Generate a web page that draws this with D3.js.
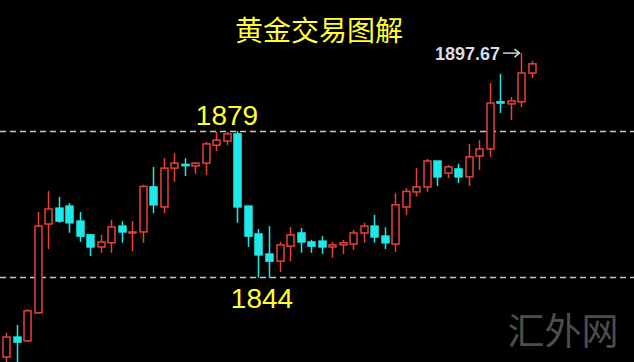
<!DOCTYPE html>
<html><head><meta charset="utf-8">
<script src="https://cdn.jsdelivr.net/npm/d3@7/dist/d3.min.js"></script>
<style>html,body{margin:0;padding:0;background:#000;}svg{display:block;}</style>
</head><body>
<script>
const opens  = [1824.8,1829.6,1828.7,1835.4,1856.7,1860.5,1861.0,1857.4,1854.1,1851.2,1852.2,1856.2,1854.55,1854.8,1865.6,1860.8,1870.1,1871.0,1870.6,1871.3,1875.6,1876.6,1878.3,1861.0,1854.3,1849.5,1847.8,1851.4,1854.55,1852.4,1852.6,1851.2,1851.7,1851.9,1854.55,1856.2,1853.8,1851.9,1860.8,1864.4,1865.6,1871.8,1868.9,1869.9,1868.0,1873.0,1874.7,1886.0,1885.5,1886.0,1892.9];
const closes = [1829.6,1828.4,1835.9,1856.2,1860.3,1857.4,1857.0,1853.8,1851.2,1852.4,1856.0,1854.8,1854.8,1865.7,1861.3,1870.1,1871.3,1870.7,1871.3,1875.9,1876.8,1878.3,1860.8,1853.8,1849.3,1847.8,1851.7,1854.1,1852.4,1851.4,1851.2,1851.7,1852.2,1854.55,1856.2,1853.6,1852.2,1861.3,1864.5,1865.6,1871.8,1868.0,1870.4,1868.0,1872.8,1874.7,1885.7,1885.7,1886.2,1892.9,1895.1];
const highs  = [1830.6,1832.5,1836.3,1859.6,1864.6,1863.2,1861.7,1859.6,1854.3,1854.1,1857.7,1857.4,1857.4,1866.1,1870.4,1872.5,1873.7,1872.5,1871.4,1876.4,1878.8,1878.8,1879.0,1861.0,1855.5,1856.2,1852.4,1856.0,1855.75,1852.9,1853.8,1852.4,1852.9,1855.3,1857.0,1858.9,1855.9,1864.1,1865.3,1870.1,1872.3,1871.8,1870.85,1871.1,1875.9,1876.8,1890.5,1892.7,1887.15,1897.67,1895.8];
const lows   = [1822.0,1822.0,1828.5,1835.2,1850.7,1857.0,1854.6,1852.4,1849.0,1849.8,1849.8,1852.2,1850.2,1852.2,1859.3,1859.3,1866.8,1868.2,1868.7,1868.5,1874.2,1875.6,1857.0,1851.2,1843.8,1843.8,1845.2,1847.8,1849.8,1849.8,1849.5,1848.6,1849.5,1850.5,1852.2,1852.2,1850.7,1850.0,1858.9,1863.3,1864.4,1865.8,1867.7,1866.5,1865.8,1869.65,1872.8,1883.3,1881.6,1884.75,1891.7];
const levels = [1879, 1844];
const levelLabels = ["1879", "1844"];
const lastHigh = "1897.67";
const title = "黄金交易图解";
const watermark = "汇外网";

const W = 634, H = 362;
const svg = d3.select("body").append("svg").attr("width", W).attr("height", H);
svg.append("rect").attr("width", W).attr("height", H).attr("fill", "#000");

const idx = d3.range(opens.length);
const x = d3.scalePoint().domain(idx).range([6, 532]);
const y = d3.scaleLinear().domain([1844, 1879]).range([277, 131]);

// watermark
svg.append("text").attr("x", 563).attr("y", 345).attr("text-anchor", "middle")
  .attr("font-family", "'Noto Sans CJK SC', sans-serif").attr("font-size", 37)
  .attr("fill", "#4d4d4d").text(watermark);

// dashed levels
svg.selectAll("line.lvl").data(levels).enter().append("line")
  .attr("x1", 0).attr("x2", W)
  .attr("y1", d => Math.round(y(d)) + 0.5).attr("y2", d => Math.round(y(d)) + 0.5)
  .attr("stroke", "#c8c8c8").attr("stroke-width", 1.5).attr("stroke-dasharray", "6,4");

const RED = "#e8413a", CYAN = "#1ee8e8";
const bw = 7;
const g = svg.append("g");
idx.forEach(i => {
  const up = closes[i] >= opens[i];
  const col = up ? RED : CYAN;
  const cx = Math.round(x(i)) + 0.5;
  const top = y(Math.max(opens[i], closes[i]));
  const bot = y(Math.min(opens[i], closes[i]));
  g.append("line").attr("x1", cx).attr("x2", cx)
    .attr("y1", y(highs[i])).attr("y2", top).attr("stroke", col).attr("stroke-width", 1.5);
  g.append("line").attr("x1", cx).attr("x2", cx)
    .attr("y1", bot).attr("y2", y(lows[i])).attr("stroke", col).attr("stroke-width", 1.5);
  const h = Math.max(bot - top, 1);
  if (up) {
    g.append("rect").attr("x", cx - bw / 2).attr("y", top).attr("width", bw).attr("height", h)
      .attr("fill", "#000").attr("stroke", col).attr("stroke-width", 1.5);
  } else {
    g.append("rect").attr("x", cx - bw / 2 - 0.75).attr("y", top - 0.75).attr("width", bw + 1.5).attr("height", h + 1.5)
      .attr("fill", col);
  }
});

// title
svg.append("text").attr("x", 319).attr("y", 41).attr("text-anchor", "middle")
  .attr("font-family", "'Noto Sans CJK SC', sans-serif").attr("font-size", 28)
  .attr("fill", "#ffff33").text(title);

// level labels
svg.append("text").attr("x", 227).attr("y", 125).attr("text-anchor", "middle")
  .attr("font-family", "'Liberation Sans', Arial, sans-serif").attr("font-size", 28)
  .attr("fill", "#ffff33").text(levelLabels[0]);
svg.append("text").attr("x", 262).attr("y", 308).attr("text-anchor", "middle")
  .attr("font-family", "'Liberation Sans', Arial, sans-serif").attr("font-size", 28)
  .attr("fill", "#ffff33").text(levelLabels[1]);

// last high annotation
const hx = x(49), hy = y(highs[49]);
svg.append("text").attr("x", 500).attr("y", hy + 7).attr("text-anchor", "end")
  .attr("font-family", "'Liberation Sans', Arial, sans-serif").attr("font-size", 18).attr("font-weight", "bold")
  .attr("fill", "#d8dce4").text(lastHigh);
svg.append("line").attr("x1", 503).attr("x2", hx - 2).attr("y1", hy).attr("y2", hy)
  .attr("stroke", "#d8dce4").attr("stroke-width", 1.4);
svg.append("path").attr("d", `M${hx - 7},${hy - 4} L${hx - 2},${hy} L${hx - 7},${hy + 4}`)
  .attr("fill", "none").attr("stroke", "#d8dce4").attr("stroke-width", 1.4);
</script>
</body></html>
